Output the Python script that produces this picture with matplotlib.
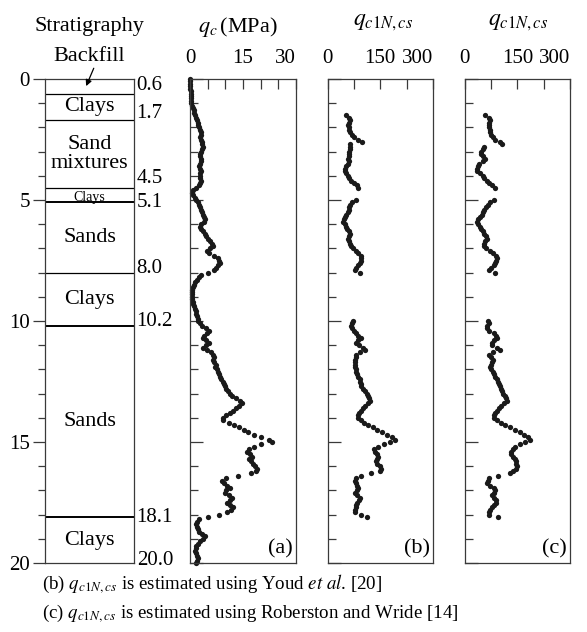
import numpy as np
import matplotlib
matplotlib.use('Agg')
from matplotlib import pyplot as plt

plt.rcParams['font.family'] = ['Liberation Serif', 'DejaVu Serif']
plt.rcParams['mathtext.fontset'] = 'stix'

W, H = 587, 632
STEP = 0.1

# stratigraphy
LAYER_TOPS = [0.0, 0.6, 1.7, 4.5, 5.1, 8.0, 10.2, 18.1]
LAYER_BOTTOMS = [0.6, 1.7, 4.5, 5.1, 8.0, 10.2, 18.1, 20.0]
LAYER_NAMES = ['', 'Clays', 'Sand\nmixtures', 'Clays', 'Sands', 'Clays', 'Sands', 'Clays']
BOUNDARY_LABELS = ['0.6', '1.7', '4.5', '5.1', '8.0', '10.2', '18.1', '20.0']

# (a) cone resistance qc (MPa), every 0.1 m from 0.0 to 20.0 m
QC = [0.0, 0.0, 0.1, 0.1, 0.1, 0.2, 0.2, 0.2, 0.3, 0.3,
      0.4, 0.6, 0.8, 1.0, 1.2, 1.4, 1.6, 1.9, 2.2, 2.3,
      2.5, 2.8, 3.1, 3.0, 2.9, 3.2, 3.4, 3.3, 3.6, 3.4,
      3.1, 2.9, 2.7, 3.0, 3.2, 2.9, 2.6, 2.8, 3.1, 2.9,
      2.7, 2.8, 3.0, 2.8, 2.5, 1.6, 0.8, 0.6, 0.8, 1.3,
      1.7, 2.2, 2.6, 2.9, 3.1, 3.4, 3.8, 4.1, 4.2, 3.9,
      3.2, 2.8, 3.1, 3.8, 4.3, 4.6, 5.0, 5.6, 6.2, 6.5,
      5.6, 4.9, 5.3, 6.8, 7.8, 8.3, 8.5, 8.0, 7.4, 6.9,
      5.0, 3.2, 2.6, 1.9, 1.4, 1.0, 0.8, 0.6, 0.5, 0.6,
      0.7, 0.6, 0.8, 0.9, 1.2, 1.5, 1.7, 1.8, 2.0, 2.2,
      2.3, 2.7, 3.4, 4.6, 5.5, 4.8, 3.9, 3.6, 4.4, 5.3,
      4.5, 3.8, 4.9, 6.0, 6.4, 6.8, 6.5, 6.9, 7.4, 7.2,
      7.6, 7.9, 8.1, 8.5, 8.8, 9.2, 9.6, 9.9, 10.3, 10.7,
      11.2, 12.0, 13.0, 14.2, 14.7, 13.9, 13.0, 12.1, 11.2, 10.2,
      9.4, 9.3, 10.9, 12.5, 14.0, 15.3, 16.5, 18.2, 20.0, 22.3,
      23.2, 20.2, 18.1, 16.8, 16.1, 16.9, 17.5, 16.6, 17.3, 17.9,
      18.5, 19.0, 18.6, 17.2, 13.6, 10.1, 9.0, 9.6, 10.4, 11.2,
      10.3, 9.8, 10.9, 11.8, 11.2, 10.5, 11.4, 12.1, 11.5, 10.4,
      8.2, 5.0, 2.6, 2.0, 1.7, 1.9, 2.2, 2.5, 3.3, 4.2,
      3.6, 2.8, 2.3, 1.8, 1.6, 1.5, 1.7, 2.0, 2.2, 2.0,
      1.8]

# sand segments start depths (m) for qc1N,cs
SEG_STARTS = [1.5, 5.0, 10.0]

# (b) qc1N,cs after Youd et al.
B_SEG1 = [54, 60, 64, 61, 59, 60, 62, 65, 69, 76, 86, 99, 64, 63, 64, 62, 60, 61, 58, 60,
          57, 52, 49, 51, 54, 58, 62, 68, 74, 83, 88]
B_SEG2 = [82, 70, 63, 61, 60, 57, 53, 49, 46, 45, 49, 53, 56, 60, 63, 61, 59, 60, 63, 67,
          72, 80, 88, 94, 96, 95, 92, 88, 82, 78, 92]
B_SEG3 = [73, 70, 68, 71, 76, 82, 88, 96, 88, 82,
          90, 100, 106, 92, 82, 80, 79, 78, 77, 79,
          81, 82, 85, 88, 91, 92, 94, 96, 101, 106,
          111, 115, 119, 120, 114, 108, 101, 95, 90, 87,
          88, 95, 103, 114, 128, 141, 155, 170, 183, 191,
          178, 160, 144, 132, 135, 141, 144, 140, 138, 142,
          149, 153, 148, 125, 95, 82, 78, 81, 85, 87,
          83, 78, 84, 92, 89, 84, 82, 80, 79, 78,
          96, 111]

# (c) qc1N,cs after Robertson and Wride
C_SEG1 = [59, 68, 73, 70, 68, 69, 71, 73, 76, 81, 87, 100, 106, 54, 51, 47, 45, 52, 59, 52,
          42, 39, 36, 35, 44, 51, 55, 62, 68, 78, 87]
C_SEG2 = [82, 72, 65, 61, 56, 52, 49, 44, 39, 35, 38, 43, 47, 51, 56, 61, 63, 59, 56, 54,
          61, 71, 80, 88, 92, 90, 86, 82, 76, 69, 87]
C_SEG3 = [66, 68, 64, 63, 70, 82, 88, 92, 84, 79,
          78, 92, 101, 80, 68, 75, 80, 77, 74, 73,
          76, 80, 84, 87, 91, 94, 97, 101, 104, 106,
          110, 115, 118, 120, 112, 103, 98, 92, 87, 83,
          82, 92, 104, 116, 130, 144, 157, 170, 180, 187,
          172, 158, 143, 137, 132, 131, 138, 144, 146, 147,
          149, 145, 138, 130, 96, 68, 66, 63, 72, 82,
          87, 82, 78, 84, 90, 90, 84, 78, 73, 70,
          68, 96]

DOT = '#1a1a1a'
SPINE = '#3a3a3a'
FS = 15
# small vertical nudges (m) of the boundary depth labels, to keep them apart
LABEL_NUDGE = [-0.15, -0.1, -0.2, 0.2, 0.0, 0.0, 0.2, 0.1]


def box(x0, x1, y0, y1):
    return [x0 / W, 1 - y1 / H, (x1 - x0) / W, (y1 - y0) / H]


def depths(start, values):
    return np.round(start + STEP * np.arange(len(values)), 2)


def setup_panel(ax, xmax, major, minor, letter):
    ax.set_xlim(0, xmax)
    ax.set_ylim(20, 0)
    for sp in ax.spines.values():
        sp.set_color(SPINE)
        sp.set_linewidth(0.9)
    ax.xaxis.tick_top()
    ax.set_xticks(major, labels=[str(m) for m in major])
    ax.set_xticks(minor, minor=True)
    ax.get_xticklabels()[-1].set_horizontalalignment('right')
    ax.set_yticks(range(0, 21, 5))
    ax.set_yticks(range(0, 21), minor=True)
    ax.tick_params(axis='x', which='both', direction='in', length=7, width=0.9,
                   color=SPINE, pad=8, labelsize=FS)
    ax.tick_params(axis='y', which='major', direction='in', length=9, width=0.9,
                   color=SPINE, labelleft=False)
    ax.tick_params(axis='y', which='minor', direction='in', length=6, width=0.9,
                   color=SPINE)
    ax.text(0.97, 0.01, letter, transform=ax.transAxes, ha='right', va='bottom',
            fontsize=FS + 1)


def dots(ax, x, y):
    ax.plot(x, y, 'o', ms=3.8, color=DOT, mec='none', clip_on=False)


fig = plt.figure(figsize=(W / 100, H / 100), dpi=100)

# stratigraphy column
ax_s = fig.add_axes(box(45, 134, 79, 563))
ax_s.set_xlim(0, 1)
ax_s.set_ylim(20, 0)
for sp in ax_s.spines.values():
    sp.set_color(SPINE)
    sp.set_linewidth(0.9)
ax_s.set_xticks([])
ax_s.set_yticks(range(0, 21, 5))
ax_s.set_yticks(range(0, 21), minor=True)
ax_s.tick_params(axis='y', which='major', length=9, width=0.9, color=SPINE,
                 labelsize=FS, pad=2)
ax_s.tick_params(axis='y', which='minor', length=5, width=0.9, color=SPINE)

for top, bot, name, lab, nudge in zip(LAYER_TOPS, LAYER_BOTTOMS, LAYER_NAMES,
                                      BOUNDARY_LABELS, LABEL_NUDGE):
    if bot < 20:
        ax_s.axhline(bot, color='k', lw=1.4 if bot in (5.1, 10.2, 18.1) else 0.9)
    ax_s.text(1.03, bot + nudge, lab, transform=ax_s.get_yaxis_transform(), ha='left',
              va='baseline', fontsize=FS, clip_on=False)
    if name:
        small = (bot - top) < 1.0
        ax_s.text(0.5, (top + bot) / 2 + (0.08 if small else 0), name, ha='center',
                  va='center', fontsize=10 if small else FS + 1, linespacing=1.0)

ax_s.text(0.5, -2.15, 'Stratigraphy', ha='center', va='center', fontsize=FS + 1,
          clip_on=False)
ax_s.text(0.5, -0.95, 'Backfill', ha='center', va='center', fontsize=FS + 1,
          clip_on=False)
ax_s.annotate('', xy=(0.45, 0.4), xytext=(0.56, -0.55),
              arrowprops=dict(arrowstyle='-|>', lw=0.9, color='k', mutation_scale=9),
              annotation_clip=False)

# (a) qc
ax_a = fig.add_axes(box(190, 296, 79, 563))
setup_panel(ax_a, 30, [0, 15, 30], [5, 10, 20, 25], '(a)')
dots(ax_a, QC, depths(0.0, QC))
fig.text(238 / W, 1 - 27 / H, r'$q_c\,$(MPa)', ha='center', va='center', fontsize=FS + 1)

# (b) and (c) qc1N,cs
for x0, segs, letter, xc in [(327.5, [B_SEG1, B_SEG2, B_SEG3], '(b)', 383),
                             (464.7, [C_SEG1, C_SEG2, C_SEG3], '(c)', 518)]:
    ax = fig.add_axes(box(x0, x0 + 105.5, 79, 563))
    setup_panel(ax, 300, [0, 150, 300], [75, 225], letter)
    for start, seg in zip(SEG_STARTS, segs):
        dots(ax, seg, depths(start, seg))
    fig.text(xc / W, 1 - 22 / H, r'$q_{c1N,cs}$', ha='center', va='center', fontsize=FS + 2)

fig.text(42 / W, 1 - 584 / H, r'(b) $q_{c1N,cs}$ is estimated using Youd $\mathit{et\ al}$. [20]',
         ha='left', va='center', fontsize=13.6)
fig.text(42 / W, 1 - 614 / H, r'(c) $q_{c1N,cs}$ is estimated using Roberston and Wride [14]',
         ha='left', va='center', fontsize=13.6)

fig.savefig('out.png', dpi=100)
